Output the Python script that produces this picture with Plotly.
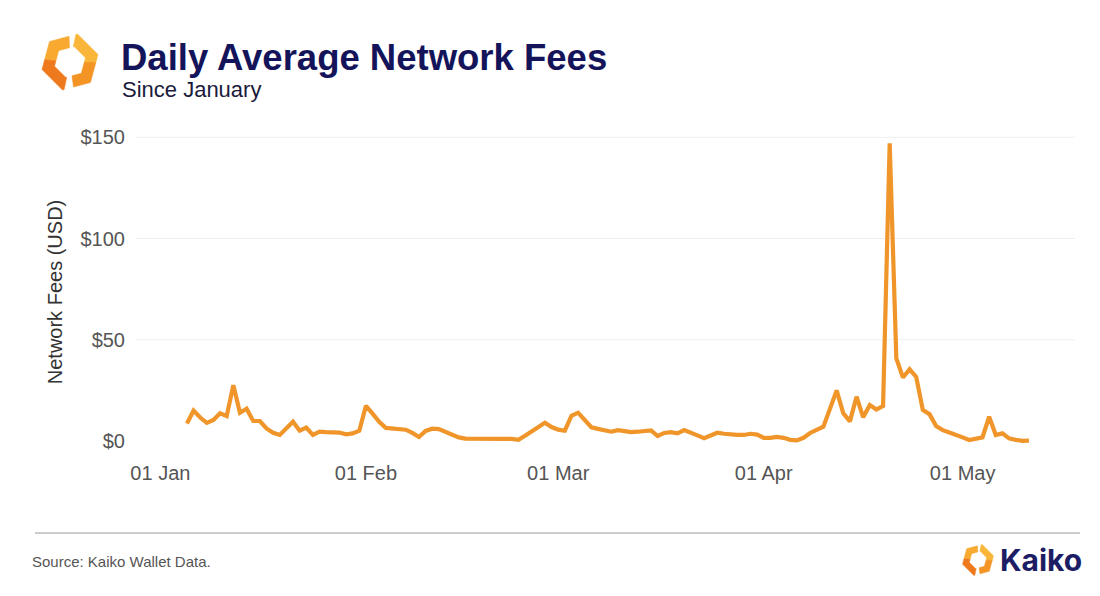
import math
import pandas as pd
import plotly.graph_objects as go

# daily average network fees (USD), 5 Jan -> 11 May 2024
start_date = "2024-01-05"
fees = [
    8.7, 15, 11.6, 9, 10.4, 13.7, 12.3, 27.6, 14, 16,
    9.9, 9.9, 6.2, 4.1, 3, 6.2, 9.5, 5.1, 6.6, 3,
    4.6, 4.4, 4.4, 4.2, 3.3, 3.8, 5.1, 17.4, 13.5, 9.5,
    6.5, 6.3, 6.2, 5.6, 4, 2, 5, 6.1, 5.9, 4.5,
    2.7, 1.8, 1.2, 1.1, 1.5, 1.4, 1.2, 0.9, 1.1, 1.1,
    0.6, 2.6, 4.8, 6.9, 9, 6.9, 5.6, 5.1, 12.5, 14,
    10, 6.8, 6, 5.4, 4.6, 5.4, 4.9, 4.4, 4.6, 4.9,
    5.3, 2.5, 4, 4.4, 3.8, 5.4, 4.3, 2.8, 1.4, 2.8,
    4.1, 3.6, 3.1, 3, 3, 3.6, 3.2, 1.6, 1.6, 2,
    1.6, 0.6, 0.3, 1.6, 4, 5.6, 7.1, 16, 25, 13.7,
    9.7, 21.9, 11.7, 17.8, 15.6, 17.3, 147, 40.8, 31.4, 35.4,
    31.7, 15.3, 13.3, 7.4, 5.4, 4.2, 3.2, 1.8, 0.5, 1,
    1.8, 12, 3, 3.8, 1.3, 0.6, 0.1, 0.2,
]
dates = pd.date_range(start_date, periods=len(fees), freq="D")

y_ticks = [0, 50, 100, 150]
y_labels = ["$" + str(v) for v in y_ticks]

W, H = 1100, 596
OFF = 8  # page body margin
L, R, T, B = 136 - OFF, 25 + OFF, 130 - OFF, 142 + OFF
FONT = "Liberation Sans, Arial, sans-serif"
NAVY = "#14145a"


def px(x):
    return (x - OFF - L) / (W - L - R)


def py(y):
    return (H - B - (y - OFF)) / (H - T - B)


def hex_piece(cx, cy, R_out, R_in, a1, a2, rot=15):
    # polygon of a hexagon ring between angles a1..a2 (degrees)
    def rad(a, Rv):
        k = ((a - rot) % 60) - 30
        return Rv * math.cos(math.radians(30)) / math.cos(math.radians(k))

    angs = [a1]
    v = rot + 60 * math.floor((a1 - rot) / 60) + 60
    while v < a2:
        angs.append(v)
        v += 60
    angs.append(a2)
    pts = []
    for a in angs:
        r = rad(a, R_out)
        pts.append((cx + r * math.cos(math.radians(a)), cy - r * math.sin(math.radians(a))))
    for a in reversed(angs):
        r = rad(a, R_in)
        pts.append((cx + r * math.cos(math.radians(a)), cy - r * math.sin(math.radians(a))))
    return "M " + " L ".join(f"{px(x):.5f},{py(y):.5f}" for x, y in pts) + " Z"


def logo_shapes(cx, cy, R_out, R_in):
    parts = [
        (92, 175, "#F7A930"),
        (175, 258, "#EF7A1E"),
        (-82, 0, "#F39424"),
        (0, 78, "#F9B63A"),
    ]
    out = []
    for a1, a2, col in parts:
        out.append(dict(type="path", xref="paper", yref="paper",
                        path=hex_piece(cx, cy, R_out, R_in, a1, a2),
                        fillcolor=col, line=dict(width=0.5, color=col)))
    return out


fig = go.Figure()
fig.add_trace(go.Scatter(
    x=dates, y=fees, mode="lines",
    line=dict(color="#F0952A", width=4.2),
    showlegend=False,
))

# horizontal grid lines (none drawn at $0 in the original)
shapes = [dict(type="line", xref="paper", yref="y", x0=0, x1=1, y0=v, y1=v,
               layer="below", line=dict(color="#efefef", width=1))
          for v in y_ticks if v > 0]
shapes += logo_shapes(70, 62, 29, 16) + logo_shapes(978, 560, 16, 9)
shapes.append(dict(type="line", xref="paper", yref="paper",
                   x0=px(35), x1=px(1080), y0=py(533), y1=py(533),
                   line=dict(color="#bdbdbd", width=1.5)))

annotations = [
    dict(text="<b>Daily Average Network Fees</b>", x=px(119), y=py(57),
         font=dict(family=FONT, size=36.5, color=NAVY)),
    dict(text="Since January", x=px(120), y=py(90),
         font=dict(family=FONT, size=22, color="#1a1a3a")),
    dict(text="Source: Kaiko Wallet Data.", x=px(30), y=py(561),
         font=dict(family=FONT, size=15, color="#555555")),
    dict(text="<b>Kaiko</b>", x=px(998), y=py(560),
         font=dict(family="Inter, Lato, sans-serif", size=30, color="#1d1d66")),
]
for a in annotations:
    a.update(xref="paper", yref="paper", xanchor="left", yanchor="middle",
             showarrow=False)

fig.update_layout(
    width=W, height=H,
    margin=dict(l=L, r=R, t=T, b=B),
    paper_bgcolor="white", plot_bgcolor="white",
    shapes=shapes, annotations=annotations,
    xaxis=dict(
        type="date",
        range=["2023-12-28 07:40", "2024-05-17 22:48"],
        tick0="2024-01-01", dtick="M1", tickformat="%d %b",
        showgrid=False, zeroline=False, showline=False,
        ticks="", ticklabelstandoff=5,
        tickfont=dict(family=FONT, size=20, color="#555555"),
    ),
    yaxis=dict(
        range=[-6.4, 153.6],
        tickmode="array", tickvals=y_ticks, ticktext=y_labels,
        showgrid=False, zeroline=False, showline=False,
        ticks="", ticklabelstandoff=10,
        tickfont=dict(family=FONT, size=20, color="#555555"),
        title=dict(text="Network Fees (USD)", standoff=12,
                   font=dict(family=FONT, size=20, color="#333333")),
    ),
)

fig.write_html("out.html")
